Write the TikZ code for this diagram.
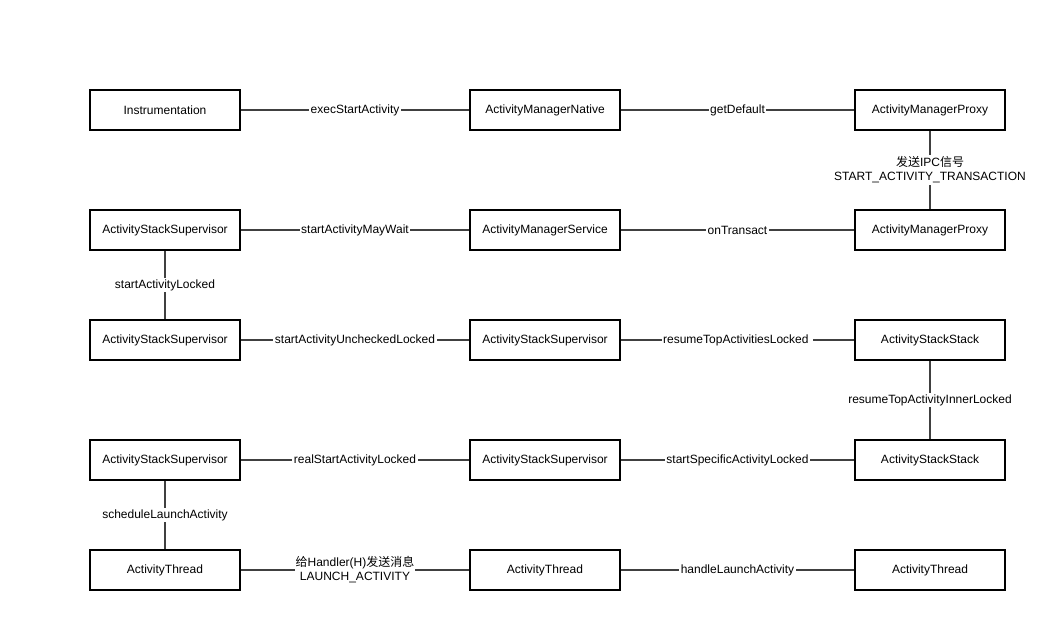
\documentclass[tikz,border=0pt]{standalone}
\usepackage{fontspec}
\setmainfont{Liberation Sans}
\newfontfamily\cjk{Noto Sans CJK SC}
\usetikzlibrary{positioning}
\tikzset{
  callbox/.style={draw=black,line width=1.9pt,minimum width=150pt,minimum height=40pt,inner sep=0pt,font=\fontsize{12}{14}\selectfont},
  callline/.style={draw=black!75,line width=2.6pt},
  calllabel/.style={fill=white,inner sep=1.5pt,font=\fontsize{12}{14}\selectfont,align=center}
}

\begin{document}
\begin{tikzpicture}[x=1pt,y=-1pt]
  \useasboundingbox (0,0) rectangle (1046,636);
  % row 1
  \node[callbox] (ins) at (165,110) {Instrumentation};
  \node[callbox] (amn) at (545,110) {ActivityManagerNative};
  \node[callbox] (amp) at (930,110) {ActivityManagerProxy};
  % row 2
  \node[callbox] (ass1) at (165,230) {ActivityStackSupervisor};
  \node[callbox] (ams) at (545,230) {ActivityManagerService};
  \node[callbox] (amp2) at (930,230) {ActivityManagerProxy};
  % row 3
  \node[callbox] (ass2) at (165,340) {ActivityStackSupervisor};
  \node[callbox] (ass3) at (545,340) {ActivityStackSupervisor};
  \node[callbox] (stk1) at (930,340) {ActivityStackStack};
  % row 4
  \node[callbox] (ass4) at (165,460) {ActivityStackSupervisor};
  \node[callbox] (ass5) at (545,460) {ActivityStackSupervisor};
  \node[callbox] (stk2) at (930,460) {ActivityStackStack};
  % row 5
  \node[callbox] (at1) at (165,570) {ActivityThread};
  \node[callbox] (at2) at (545,570) {ActivityThread};
  \node[callbox] (at3) at (930,570) {ActivityThread};

  \draw[callline] (ins) -- node[calllabel] {execStartActivity} (amn);
  \draw[callline] (amn) -- node[calllabel] {getDefault} (amp);
  \draw[callline] (amp) -- node[calllabel] {{\cjk 发送}IPC{\cjk 信号}\\START\_ACTIVITY\_TRANSACTION} (amp2);
  \draw[callline] (amp2) -- node[calllabel] {onTransact} (ams);
  \draw[callline] (ams) -- node[calllabel] {startActivityMayWait} (ass1);
  \draw[callline] (ass1) -- node[calllabel] {startActivityLocked} (ass2);
  \draw[callline] (ass2) -- node[calllabel] {startActivityUncheckedLocked} (ass3);
  \draw[callline] (ass3) -- node[calllabel] {resumeTopActivitiesLocked\ } (stk1);
  \draw[callline] (stk1) -- node[calllabel] {resumeTopActivityInnerLocked} (stk2);
  \draw[callline] (stk2) -- node[calllabel] {startSpecificActivityLocked} (ass5);
  \draw[callline] (ass5) -- node[calllabel] {realStartActivityLocked} (ass4);
  \draw[callline] (ass4) -- node[calllabel] {scheduleLaunchActivity} (at1);
  \draw[callline] (at1) -- node[calllabel,inner sep=0.5pt] {{\cjk 给}Handler(H){\cjk 发送消息}\\LAUNCH\_ACTIVITY} (at2);
  \draw[callline] (at2) -- node[calllabel] {handleLaunchActivity} (at3);
\end{tikzpicture}
\end{document}
